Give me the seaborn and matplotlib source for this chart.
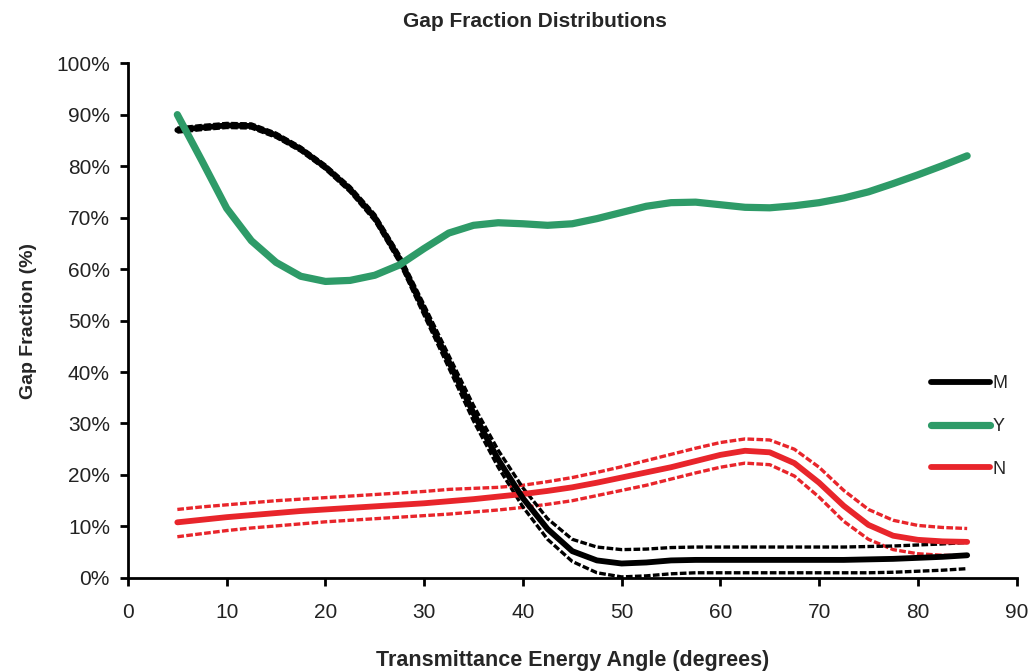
import pandas as pd
import matplotlib
matplotlib.use("Agg")
import matplotlib.pyplot as plt
import seaborn as sns
from matplotlib.ticker import PercentFormatter

angle = [5, 7.5, 10, 12.5, 15, 17.5, 20, 22.5, 25, 27.5, 30, 32.5, 35, 37.5, 40, 42.5,
         45, 47.5, 50, 52.5, 55, 57.5, 60, 62.5, 65, 67.5, 70, 72.5, 75, 77.5, 80, 82.5, 85]

y_mean = [90.0, 81.0, 71.8, 65.5, 61.3, 58.6, 57.6, 57.8, 58.8, 60.8, 64.0, 67.0, 68.5, 69.0,
          68.8, 68.5, 68.8, 69.8, 71.0, 72.2, 72.9, 73.0, 72.5, 72.0, 71.9, 72.3, 72.9, 73.8,
          75.0, 76.6, 78.3, 80.1, 82.0]

m_mean = [87.0, 87.5, 87.9, 87.8, 86.0, 83.3, 79.8, 75.5, 70.0, 62.0, 52.0, 42.0, 32.0, 23.0,
          15.5, 9.5, 5.2, 3.4, 2.8, 3.0, 3.4, 3.5, 3.5, 3.5, 3.5, 3.5, 3.5, 3.5, 3.6, 3.7,
          3.9, 4.1, 4.4]
m_hi = [87.4, 87.9, 88.3, 88.2, 86.4, 83.7, 80.2, 76.0, 70.6, 62.7, 53.0, 43.2, 33.5, 24.8,
        17.5, 11.5, 7.5, 6.0, 5.5, 5.6, 5.9, 6.0, 6.0, 6.0, 6.0, 6.0, 6.0, 6.0, 6.1, 6.2,
        6.4, 6.6, 6.9]
m_lo = [86.6, 87.1, 87.5, 87.4, 85.6, 82.9, 79.4, 75.0, 69.4, 61.3, 51.0, 40.8, 30.5, 21.5,
        13.8, 7.5, 3.2, 1.0, 0.2, 0.4, 0.8, 1.0, 1.0, 1.0, 1.0, 1.0, 1.0, 1.0, 1.0, 1.1,
        1.3, 1.5, 1.8]

n_mean = [10.8, 11.3, 11.8, 12.2, 12.6, 13.0, 13.3, 13.6, 13.9, 14.2, 14.5, 14.9, 15.3, 15.8,
          16.3, 16.9, 17.6, 18.5, 19.5, 20.5, 21.5, 22.7, 23.9, 24.7, 24.4, 22.3, 18.5, 14.0,
          10.3, 8.2, 7.4, 7.1, 7.0]
n_hi = [13.3, 13.8, 14.2, 14.6, 15.0, 15.3, 15.6, 15.9, 16.2, 16.5, 16.8, 17.2, 17.4, 17.6,
        18.0, 18.7, 19.5, 20.5, 21.6, 22.8, 24.0, 25.2, 26.3, 27.0, 26.8, 25.0, 21.5, 17.0,
        13.3, 11.2, 10.2, 9.8, 9.6]
n_lo = [8.0, 8.6, 9.2, 9.7, 10.1, 10.5, 10.9, 11.2, 11.5, 11.8, 12.1, 12.4, 12.8, 13.2,
        13.7, 14.3, 15.0, 16.0, 17.0, 18.0, 19.2, 20.4, 21.5, 22.3, 22.0, 19.8, 15.7, 11.0,
        7.5, 5.5, 4.7, 4.4, 4.3]

black = "#000000"
green = "#2e9b68"
red = "#e8252b"

sns.set_style("ticks")
plt.rcParams['font.family'] = ['Liberation Sans', 'DejaVu Sans']
plt.rcParams['lines.solid_joinstyle'] = 'round'
plt.rcParams['lines.solid_capstyle'] = 'round'
plt.rcParams['lines.dash_joinstyle'] = 'round'

fig = plt.figure(figsize=(10.32, 6.72), dpi=100)
ax = fig.add_axes([0.124, 0.140, 0.861, 0.766])

def band(hi, lo, color):
    # dashed confidence lines above and below the mean
    for vals in (hi, lo):
        d = pd.DataFrame({"angle": angle, "gap": vals})
        sns.lineplot(data=d, x="angle", y="gap", color=color, lw=2.4, ax=ax,
                     linestyle=(0, (2.0, 0.7)))

band(n_hi, n_lo, red)
band(m_hi, m_lo, black)

sns.lineplot(x=angle, y=n_mean, color=red, lw=4.2, ax=ax, label="N", zorder=4)
sns.lineplot(x=angle, y=m_mean, color=black, lw=4.2, ax=ax, label="M", zorder=5)
sns.lineplot(x=angle, y=y_mean, color=green, lw=5.2, ax=ax, label="Y", zorder=6)

ax.set_xlim(0, 90)
ax.set_ylim(0, 100)
ax.set_xticks(range(0, 91, 10))
ax.set_yticks(range(0, 101, 10))
ax.yaxis.set_major_formatter(PercentFormatter(decimals=0))
sns.despine(ax=ax)
for s in ("left", "bottom"):
    ax.spines[s].set_linewidth(2.0)
    ax.spines[s].set_color("black")
ax.tick_params(direction="out", length=6, width=2, colors="black",
               labelcolor="#222222", labelsize=15)
ax.tick_params(axis="x", pad=12)
ax.tick_params(axis="y", pad=7)

ax.set_xlabel("Transmittance Energy Angle (degrees)", fontsize=15.5, fontweight="bold", labelpad=20)
ax.set_ylabel("Gap Fraction (%)", fontsize=14, fontweight="bold", labelpad=14)
fig.suptitle("Gap Fraction Distributions", x=0.518, y=0.982, fontsize=15, fontweight="bold")

handles, labels = ax.get_legend_handles_labels()
order = [labels.index(k) for k in ("M", "Y", "N")]
ax.legend([handles[i] for i in order], [labels[i] for i in order],
          loc="upper left", bbox_to_anchor=(0.885, 0.425), frameon=False,
          handlelength=3.3, handletextpad=0.15, labelspacing=1.42, fontsize=13)

fig.savefig("out.png", dpi=100)
